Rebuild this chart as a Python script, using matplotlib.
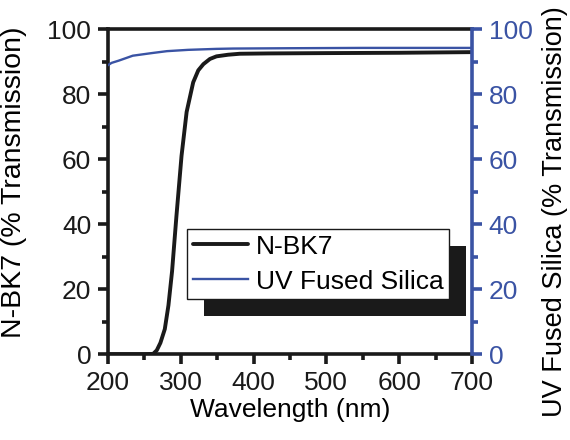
import matplotlib
matplotlib.use("Agg")
import matplotlib.pyplot as plt
from matplotlib.patches import Rectangle
from matplotlib.ticker import MultipleLocator

plt.rcParams['font.family'] = ['Liberation Sans', 'DejaVu Sans']

# data
wl_bk7 = [200, 250, 262, 267, 272, 278, 283, 288, 294, 301, 308, 317, 324, 331, 340, 349, 365, 381, 420, 500, 600, 700]
t_bk7 = [0.0, 0.0, 0.1, 1.2, 3.5, 7.7, 15, 25.5, 42.5, 61, 74.5, 83.6, 87.3, 89.2, 90.8, 91.6, 92.1, 92.4, 92.5, 92.6, 92.7, 92.9]
wl_uvfs = [200, 205, 215, 234, 260, 281, 310, 349, 372, 450, 550, 700]
t_uvfs = [88.9, 89.6, 90.3, 91.8, 92.6, 93.2, 93.6, 93.9, 94.0, 94.1, 94.2, 94.2]

blue = '#3a53a4'
fs = 19

fig = plt.figure(figsize=(5.7, 4.4), dpi=100)
ax = fig.add_axes([0.1895, 0.195, 0.6385, 0.739])
ax2 = ax.twinx()

l1, = ax.plot(wl_bk7, t_bk7, color='#1a1a1a', lw=2.8, label='N-BK7', solid_capstyle='round')
l2, = ax2.plot(wl_uvfs, t_uvfs, color=blue, lw=1.7, label='UV Fused Silica')

ax.set_xlim(200, 700)
ax.set_ylim(0, 100)
ax2.set_ylim(0, 100)

ax.xaxis.set_major_locator(MultipleLocator(100))
ax.xaxis.set_minor_locator(MultipleLocator(50))
for a in (ax, ax2):
    a.yaxis.set_major_locator(MultipleLocator(20))
    a.yaxis.set_minor_locator(MultipleLocator(10))

for s in ax.spines.values():
    s.set_linewidth(2.6)
    s.set_color('#1a1a1a')
for name in ('top', 'left', 'bottom'):
    ax2.spines[name].set_visible(False)
ax2.spines['right'].set_color(blue)
ax2.spines['right'].set_linewidth(2.6)
ax.spines['right'].set_visible(False)

ax.tick_params(which='major', direction='out', length=7, width=2.6, labelsize=fs, colors='#1a1a1a', pad=5)
ax.tick_params(which='minor', direction='out', length=4.5, width=2.6, colors='#1a1a1a')
ax2.tick_params(which='major', direction='out', length=7, width=2.6, labelsize=fs, colors=blue, pad=5)
ax2.tick_params(which='minor', direction='out', length=4.5, width=2.6, colors=blue)

ax.set_xlabel('Wavelength (nm)', fontsize=fs, labelpad=2)
ax.set_ylabel('N-BK7 (% Transmission)', fontsize=20.5)
ax2.set_ylabel('UV Fused Silica (% Transmission)', fontsize=19.5, rotation=90, va='center')
ax.yaxis.set_label_coords(-0.222, 0.528)
ax2.yaxis.set_label_coords(1.228, 0.44)

leg = ax2.legend([l1, l2], ['N-BK7', 'UV Fused Silica'], loc='upper left',
                 bbox_to_anchor=(0.218, 0.384), borderaxespad=0, fontsize=fs,
                 fancybox=False, frameon=True, handlelength=2.1, handletextpad=0.3,
                 borderpad=0.2, labelspacing=0.42, framealpha=1)
leg.get_frame().set_edgecolor('#1a1a1a')
leg.get_frame().set_linewidth(1.0)
leg.set_zorder(10)

# black block shadow behind the legend
fig.canvas.draw()
bb = leg.get_window_extent()
off = 17
inv = fig.transFigure.inverted()
(x0, y0) = inv.transform((bb.x0 + off, bb.y0 - off))
(x1, y1) = inv.transform((bb.x1 + off, bb.y1 - off))
shadow = Rectangle((x0, y0), x1 - x0, y1 - y0, transform=fig.transFigure,
                   facecolor='#1a1a1a', edgecolor='none', zorder=9)
ax2.add_artist(shadow)

fig.savefig('out.png', dpi=100)
